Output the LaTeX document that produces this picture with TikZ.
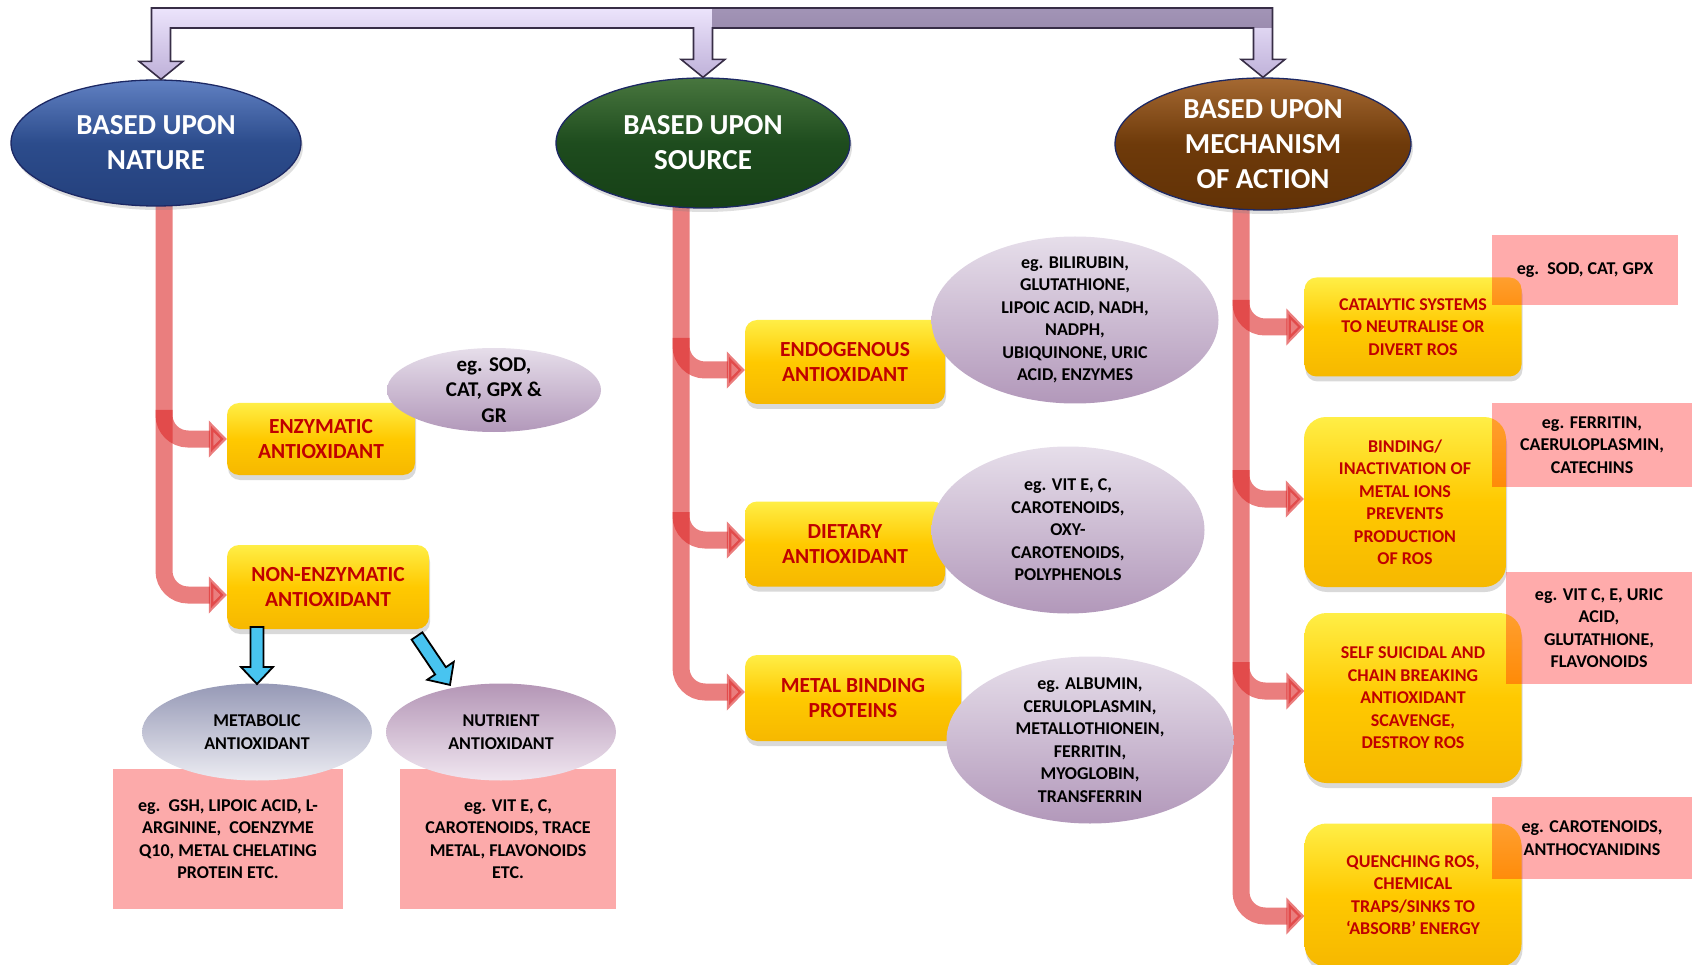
\documentclass[tikz,border=0pt]{standalone}
\usepackage{fontspec}
\setmainfont{Carlito}
\usetikzlibrary{shapes.geometric,arrows.meta,calc,shadows,backgrounds}
\definecolor{ytop}{RGB}{255,238,70}
\definecolor{ymid}{RGB}{255,201,0}
\definecolor{ybot}{RGB}{246,184,0}
\definecolor{boxred}{RGB}{192,0,0}
\definecolor{conred}{RGB}{220,40,40}
\definecolor{pinkfill}{RGB}{252,170,170}
\definecolor{mtop}{RGB}{230,222,234}
\definecolor{mbot}{RGB}{178,152,186}
\definecolor{gtop}{RGB}{150,153,182}
\definecolor{gbot}{RGB}{236,236,242}
\definecolor{ntop}{RGB}{180,150,182}
\definecolor{nbot}{RGB}{240,230,240}
\definecolor{bluetop}{RGB}{96,128,194}
\definecolor{bluemid}{RGB}{44,76,140}
\definecolor{bluebot}{RGB}{36,64,124}
\definecolor{greentop}{RGB}{72,118,62}
\definecolor{greenmid}{RGB}{30,76,30}
\definecolor{greenbot}{RGB}{22,64,22}
\definecolor{browntop}{RGB}{165,105,50}
\definecolor{brownmid}{RGB}{110,58,10}
\definecolor{brownbot}{RGB}{98,50,6}
\definecolor{ellline}{RGB}{28,40,100}
\definecolor{lavtop}{RGB}{236,228,252}
\definecolor{lavbot}{RGB}{190,176,216}
\definecolor{purtop}{RGB}{162,148,182}
\definecolor{purbot}{RGB}{138,122,158}
\definecolor{brline}{RGB}{55,45,70}
\definecolor{skyblue}{RGB}{72,196,240}
\begin{document}
\begin{tikzpicture}[x=1pt,y=-1pt,
  topell/.style={ellipse, draw=ellline, line width=1.3pt, inner sep=-30pt, text=white, align=center,
    font=\bfseries\fontsize{29}{35}\selectfont,
    drop shadow={shadow xshift=2pt, shadow yshift=-4pt, opacity=0.25}},
  ybox/.style={rectangle, rounded corners=12pt, top color=ytop, bottom color=ybot, middle color=ymid,
    text=boxred, align=center, inner sep=2pt,
    drop shadow={shadow xshift=1pt, shadow yshift=-5pt, opacity=0.3}},
  lf/.style={font=\bfseries\fontsize{21.5}{25}\selectfont},
  sf/.style={font=\bfseries\fontsize{18}{22.5}\selectfont},
  mell/.style={ellipse, top color=mtop, bottom color=mbot, inner sep=-30pt, align=center, text=black},
  pbox/.style={rectangle, fill=pinkfill, inner sep=2pt, align=center, text=black, sf},
  tpbox/.style={rectangle, fill=red, fill opacity=0.33, text opacity=1, inner sep=2pt, align=center, text=black, sf},
  conn/.style={draw=conred, opacity=0.6, line width=17pt, rounded corners=24pt, -{Triangle[width=36pt,length=18pt]}},
  barrow/.style={fill=skyblue, draw=black, line width=1.8pt, line join=miter}
]
\useasboundingbox (0,0) rectangle (1700,965);

% top ellipses
\node[topell, top color=bluetop, bottom color=bluebot, middle color=bluemid, minimum width=290pt, minimum height=126pt] (nat) at (156,143) {BASED UPON\\NATURE};
\node[topell, top color=greentop, bottom color=greenbot, middle color=greenmid, minimum width=294pt, minimum height=130pt] (src) at (703,143) {BASED UPON\\SOURCE};
\node[topell, top color=browntop, bottom color=brownbot, middle color=brownmid, minimum width=296pt, minimum height=132pt] (mech) at (1263,144) {BASED UPON\\MECHANISM\\OF ACTION};

% left column
\node[ybox, lf, minimum width=188pt, minimum height=72pt] (enz) at (321,439) {ENZYMATIC\\ANTIOXIDANT};
\node[ybox, lf, minimum width=202pt, minimum height=84pt] (nonenz) at (328,587) {NON-ENZYMATIC\\ANTIOXIDANT};
\node[mell, font=\bfseries\fontsize{21}{25.5}\selectfont, minimum width=214pt, minimum height=84pt] (sod) at (494,390) {eg. SOD,\\CAT, GPX \&\\GR};
\node[pbox, minimum width=230pt, minimum height=140pt] (pk1) at (228,839) {eg.\ \ GSH, LIPOIC ACID, L-\\ARGININE,\ \ COENZYME\\Q10, METAL CHELATING\\PROTEIN ETC.};
\node[pbox, minimum width=216pt, minimum height=140pt] (pk2) at (508,839) {eg. VIT E, C,\\CAROTENOIDS, TRACE\\METAL, FLAVONOIDS\\ETC.};
\node[mell, top color=gtop, bottom color=gbot, sf, minimum width=230pt, minimum height=97pt] (metab) at (257,732) {METABOLIC\\ANTIOXIDANT};
\node[mell, top color=ntop, bottom color=nbot, sf, minimum width=230pt, minimum height=97pt] (nutr) at (501,732) {NUTRIENT\\ANTIOXIDANT};

% middle column
\node[ybox, lf, minimum width=200pt, minimum height=84pt] (endo) at (845,362) {ENDOGENOUS\\ANTIOXIDANT};
\node[ybox, lf, minimum width=200pt, minimum height=85pt] (diet) at (845,544) {DIETARY\\ANTIOXIDANT};
\node[ybox, lf, minimum width=216pt, minimum height=86pt] (metal) at (853,698) {METAL BINDING\\PROTEINS};
\node[mell, sf, minimum width=287pt, minimum height=167pt] (endoE) at (1075,320) {eg. BILIRUBIN,\\GLUTATHIONE,\\LIPOIC ACID, NADH,\\NADPH,\\UBIQUINONE, URIC\\ACID, ENZYMES};
\node[mell, sf, minimum width=273pt, minimum height=167pt] (dietE) at (1068,530) {eg. VIT E, C,\\CAROTENOIDS,\\OXY-\\CAROTENOIDS,\\POLYPHENOLS};
\node[mell, sf, minimum width=287pt, minimum height=167pt] (metalE) at (1090,740) {eg. ALBUMIN,\\CERULOPLASMIN,\\METALLOTHIONEIN,\\FERRITIN,\\MYOGLOBIN,\\TRANSFERRIN};

% right column
\node[ybox, sf, minimum width=217pt, minimum height=99pt] (cat) at (1413,327) {CATALYTIC SYSTEMS\\TO NEUTRALISE OR\\DIVERT ROS};
\node[ybox, sf, rounded corners=22pt, minimum width=202pt, minimum height=170pt] (bind) at (1405,502) {BINDING/\\INACTIVATION OF\\METAL IONS\\PREVENTS\\PRODUCTION\\OF ROS};
\node[ybox, sf, rounded corners=22pt, minimum width=217pt, minimum height=170pt] (self) at (1413,698) {SELF SUICIDAL AND\\CHAIN BREAKING\\ANTIOXIDANT\\SCAVENGE,\\DESTROY ROS};
\node[ybox, sf, rounded corners=22pt, minimum width=217pt, minimum height=143pt] (quench) at (1413,895) {QUENCHING ROS,\\CHEMICAL\\TRAPS/SINKS TO\\`ABSORB' ENERGY};
\node[tpbox, minimum width=186pt, minimum height=70pt] (catE) at (1585,270) {eg.\ \ SOD, CAT, GPX};
\node[tpbox, minimum width=200pt, minimum height=84pt] (bindE) at (1592,445) {eg. FERRITIN,\\CAERULOPLASMIN,\\CATECHINS};
\node[tpbox, minimum width=186pt, minimum height=112pt] (selfE) at (1599,628) {eg. VIT C, E, URIC\\ACID,\\GLUTATHIONE,\\FLAVONOIDS};
\node[tpbox, minimum width=200pt, minimum height=82pt] (quenchE) at (1592,838) {eg. CAROTENOIDS,\\ANTHOCYANIDINS};

% top bracket
\path let \p1=($(nat.north)+(5,0)$), \p2=(src.north), \p3=(mech.north) in
  coordinate (b1) at (\x1,\y1)
  coordinate (b2) at (\x1+22pt,\y1+18pt)
  coordinate (b3) at (\x1+9.5pt,\y1+18pt)
  coordinate (b4) at (\x1+9.5pt,-28pt)
  coordinate (b5) at (\x2-9.5pt,-28pt)
  coordinate (b6) at (\x2-9.5pt,\y2+18pt)
  coordinate (b7) at (\x2-22pt,\y2+18pt)
  coordinate (b8) at (\x2,\y2)
  coordinate (b9) at (\x2+22pt,\y2+18pt)
  coordinate (b10) at (\x2+9.5pt,\y2+18pt)
  coordinate (b11) at (\x2+9.5pt,-28pt)
  coordinate (b12) at (\x3-9.5pt,-28pt)
  coordinate (b13) at (\x3-9.5pt,\y3+18pt)
  coordinate (b14) at (\x3-22pt,\y3+18pt)
  coordinate (b15) at (\x3,\y3)
  coordinate (b16) at (\x3+22pt,\y3+18pt)
  coordinate (b17) at (\x3+9.5pt,\y3+18pt)
  coordinate (b18) at (\x3+9.5pt,-8pt)
  coordinate (b19) at (\x1-9.5pt,-8pt)
  coordinate (b20) at (\x1-9.5pt,\y1+18pt)
  coordinate (b21) at (\x1-22pt,\y1+18pt);
\shade[top color=lavtop, bottom color=lavbot] (b1)--(b2)--(b3)--(b4)--(b5)--(b6)--(b7)--(b8)--(b9)--(b10)--(b11)--(b12)--(b13)--(b14)--(b15)--(b16)--(b17)--(b18)--(b19)--(b20)--(b21)--cycle;
\begin{scope}
  \clip (b11) rectangle (1700,0);
  \shade[top color=purtop, bottom color=purbot] (b1)--(b2)--(b3)--(b4)--(b5)--(b6)--(b7)--(b8)--(b9)--(b10)--(b11)--(b12)--(b13)--(b14)--(b15)--(b16)--(b17)--(b18)--(b19)--(b20)--(b21)--cycle;
\end{scope}
\draw[brline, line width=1.6pt, line join=miter] (b1)--(b2)--(b3)--(b4)--(b5)--(b6)--(b7)--(b8)--(b9)--(b10)--(b11)--(b12)--(b13)--(b14)--(b15)--(b16)--(b17)--(b18)--(b19)--(b20)--(b21)--cycle;

% blue arrows
\coordinate (ba1) at (257,627);
\coordinate (ba2) at (417,636);
\begin{scope}[shift={(ba1)}, rotate=-90]
  \filldraw[barrow] (0,-6.5) -- (40,-6.5) -- (40,-16) -- (57,0) -- (40,16) -- (40,6.5) -- (0,6.5) -- cycle;
\end{scope}
\begin{scope}[shift={(ba2)}, rotate=-56]
  \filldraw[barrow] (0,-6.5) -- (42,-6.5) -- (42,-16) -- (59,0) -- (42,16) -- (42,6.5) -- (0,6.5) -- cycle;
\end{scope}

% connectors
\begin{scope}[on background layer]
  \coordinate (natT) at (164,200);
  \coordinate (natB1) at (164,410);
  \coordinate (srcT) at (681,200);
  \coordinate (srcB1) at (681,338);
  \coordinate (srcB2) at (681,512);
  \coordinate (mechT) at (1241,200);
  \coordinate (mechB1) at (1241,300);
  \coordinate (mechB2) at (1241,470);
  \coordinate (mechB3) at (1241,662);
  \draw[conn] (natT) |- ($(nonenz.west)+(0,8)$);
  \draw[conn] (natB1) |- (enz.west);
  \draw[conn] (srcT) |- ($(metal.west)+(0,-6)$);
  \draw[conn] (srcB1) |- ($(endo.west)+(0,8)$);
  \draw[conn] (srcB2) |- ($(diet.west)+(0,-4)$);
  \draw[conn] (mechT) |- ($(quench.west)+(0,21)$);
  \draw[conn] (mechB1) |- (cat.west);
  \draw[conn] (mechB2) |- ($(bind.west)+(0,-3)$);
  \draw[conn] (mechB3) |- ($(self.west)+(0,-7)$);
\end{scope}
\end{tikzpicture}
\end{document}
